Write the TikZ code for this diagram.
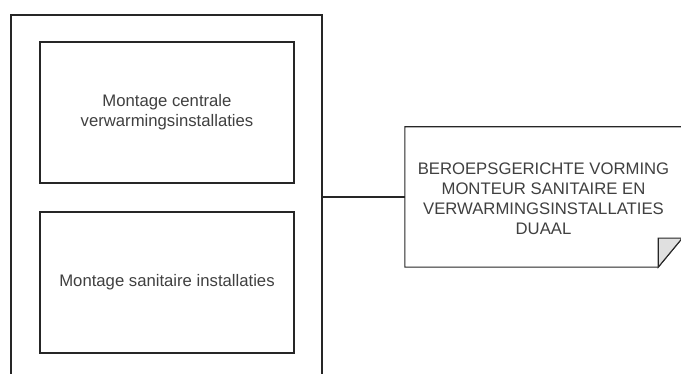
\documentclass[tikz,border=0pt]{standalone}
\usepackage{fontspec}
\setmainfont{Liberation Sans}
\usetikzlibrary{calc}
\begin{document}
\begin{tikzpicture}[x=1pt,y=-1pt,
  line/.style={draw=black!85, line width=1.1pt},
  box/.style={line, fill=white, inner sep=0pt, align=center},
  label/.style={align=center, font=\fontsize{16.7}{20}\selectfont, text=black!75},
]
\useasboundingbox (0,0) rectangle (681,374);
\node[box, minimum width=311pt, minimum height=364pt] (outer) at (166.5,197) {};
\node[box, label, minimum width=254pt, minimum height=141pt] (top) at (167,112.5) {Montage centrale\\verwarmingsinstallaties};
\node[box, label, minimum width=254pt, minimum height=141pt] (bot) at (167,282.5) {Montage sanitaire installaties};
% note shape
\node[inner sep=0pt, minimum width=277pt, minimum height=140pt] (note) at (543.5,197) {};
\coordinate (foldA) at ($(note.south east)+(-24,0)$);
\coordinate (foldB) at ($(note.south east)+(0,-29)$);
\coordinate (foldC) at ($(note.south east)+(-24,-29)$);
\path[line, fill=white] (note.north west) -- (note.north east) -- (foldB) -- (foldA) -- (note.south west) -- cycle;
\path[line, fill=black!12] (foldC) -- (foldB) -- (foldA) -- cycle;
\node[label] (notetext) at (543.5,199) {BEROEPSGERICHTE VORMING\\MONTEUR SANITAIRE EN\\VERWARMINGSINSTALLATIES\\DUAAL};
\draw[line] (outer.east) -- (note.west);
\end{tikzpicture}
\end{document}
